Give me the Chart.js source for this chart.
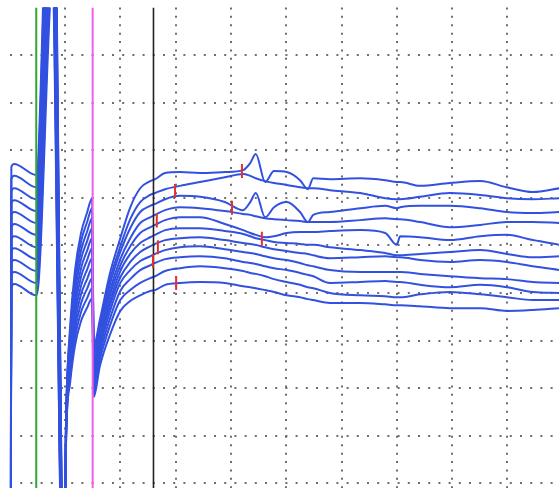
<!DOCTYPE html>
<html><head><meta charset="utf-8">
<script src="https://cdn.jsdelivr.net/npm/chart.js@4.4.1/dist/chart.umd.min.js"></script>
<style>html,body{margin:0;padding:0;background:#fff;overflow:hidden}canvas{display:block}</style>
</head><body>
<canvas id="c" width="559" height="488"></canvas>
<script>
// time axis samples (ms-divisions)
const timeMs = [0.02,0.03,0.08,0.48,0.77,0.98,1.02,1.09,1.18,1.29,1.40,1.49,1.52,1.63,1.81,2.0,2.18,2.36,2.54,2.63,2.81,3.08,3.44,3.89,4.22,4.35,4.45,4.62,4.78,5.01,5.25,5.39,5.49,5.79,6.34,6.79,7.0,7.06,7.42,7.96,8.51,8.99,9.46,9.95];
// trace amplitudes (divisions, downward positive)
const tr0 = [10.8,3.35,3.29,3.52,-4.90,12.0,8.58,6.75,5.53,4.74,4.31,4.01,7.10,6.57,5.60,4.85,4.20,3.80,3.65,3.61,3.48,3.46,3.48,3.46,3.42,3.27,3.08,3.67,3.44,3.46,3.63,3.82,3.59,3.61,3.59,3.63,3.67,3.67,3.75,3.69,3.65,3.78,3.88,3.80];
const tr1 = [10.8,3.61,3.54,3.78,-4.45,12.1,8.63,6.87,5.69,4.92,4.51,4.22,7.20,6.66,5.73,5.02,4.45,4.09,3.94,3.90,3.82,3.75,3.67,3.57,3.50,3.54,3.59,3.65,3.69,3.73,3.78,3.80,3.80,3.84,3.90,4.01,4.03,4.03,3.98,3.90,3.94,4.01,4.03,4.01];
const tr2 = [10.8,3.86,3.80,4.03,-4.00,12.2,8.68,6.98,5.85,5.11,4.71,4.43,7.31,6.74,5.83,5.14,4.64,4.30,4.17,4.13,4.03,3.96,3.98,4.09,4.26,4.09,3.90,4.41,4.20,4.09,4.30,4.51,4.36,4.30,4.22,4.17,4.22,4.20,4.17,4.17,4.22,4.30,4.32,4.30];
const tr3 = [10.8,4.11,4.05,4.28,-3.55,12.3,8.74,7.10,6.00,5.29,4.91,4.64,7.43,6.85,5.96,5.29,4.85,4.53,4.41,4.36,4.26,4.20,4.22,4.28,4.34,4.36,4.39,4.43,4.45,4.47,4.49,4.51,4.51,4.51,4.47,4.43,4.45,4.45,4.51,4.62,4.57,4.51,4.51,4.53];
const tr4 = [10.8,4.36,4.30,4.53,-3.10,12.4,8.79,7.21,6.16,5.48,5.11,4.85,7.54,6.93,6.07,5.42,5.02,4.74,4.62,4.57,4.47,4.41,4.41,4.55,4.68,4.74,4.78,4.83,4.81,4.74,4.72,4.72,4.72,4.70,4.68,4.74,4.99,4.81,4.83,4.89,4.81,4.78,4.89,4.99];
const tr5 = [10.8,4.62,4.55,4.78,-2.65,12.5,8.84,7.33,6.32,5.66,5.31,5.06,7.64,7.01,6.19,5.54,5.18,4.95,4.83,4.78,4.68,4.64,4.64,4.70,4.76,4.81,4.85,4.89,4.93,4.95,4.97,4.99,4.99,5.04,5.10,5.16,5.21,5.21,5.18,5.14,5.10,5.18,5.25,5.23];
const tr6 = [10.8,4.87,4.81,5.04,-2.20,12.6,8.89,7.44,6.48,5.85,5.51,5.27,7.75,7.10,6.28,5.67,5.35,5.14,5.02,4.97,4.89,4.85,4.83,4.89,4.95,4.97,4.99,5.04,5.08,5.12,5.16,5.18,5.21,5.27,5.25,5.23,5.25,5.25,5.31,5.35,5.31,5.35,5.44,5.52];
const tr7 = [10.8,5.12,5.06,5.29,-1.75,12.7,8.95,7.56,6.64,6.03,5.71,5.48,7.86,7.18,6.40,5.79,5.52,5.33,5.23,5.18,5.10,5.04,5.02,5.08,5.14,5.16,5.18,5.23,5.27,5.31,5.37,5.42,5.44,5.52,5.56,5.56,5.56,5.56,5.60,5.65,5.69,5.71,5.77,5.79];
const tr8 = [10.8,5.37,5.31,5.54,-1.30,12.8,9.00,7.68,6.79,6.22,5.91,5.69,7.98,7.29,6.55,5.96,5.71,5.52,5.42,5.37,5.29,5.25,5.23,5.27,5.35,5.37,5.39,5.44,5.48,5.52,5.58,5.62,5.65,5.79,5.77,5.75,5.77,5.77,5.83,5.88,5.83,5.88,5.98,6.00];
const tr9 = [10.8,5.62,5.56,5.79,-0.85,12.9,9.05,7.81,6.95,6.40,6.11,5.90,8.09,7.41,6.70,6.15,5.94,5.79,5.69,5.65,5.54,5.48,5.44,5.48,5.54,5.58,5.60,5.65,5.71,5.77,5.83,5.88,5.90,6.00,6.05,6.07,6.09,6.09,6.03,5.98,6.03,6.09,6.15,6.15];
const tr10 = [10.8,5.88,5.81,6.05,-0.40,13.0,9.10,7.91,7.11,6.59,6.31,6.11,8.19,7.54,6.89,6.38,6.17,6.05,5.96,5.94,5.83,5.79,5.77,5.79,5.86,5.88,5.90,5.94,5.98,6.05,6.09,6.13,6.15,6.21,6.21,6.24,6.26,6.26,6.28,6.32,6.32,6.38,6.36,6.32];
// latency markers
const markX = [2.99, 4.20, 4.02, 2.66, 4.56, 2.68, 2.59, 3.01];
const markY = [3.86, 3.44, 4.21, 4.48, 4.86, 5.04, 5.33, 5.79];
// cursor lines (ms)
const cursorX = [0.48, 1.50, 2.60];
const cursorColor = ['#2fa832', '#f25cf0', '#222222'];
// grid divisions
const gridX = [1,2,3,4,5,6,7,8,9];
const gridY = [1,2,3,4,5,6,7,8,9,10];

const traces = [tr0,tr1,tr2,tr3,tr4,tr5,tr6,tr7,tr8,tr9,tr10];
const datasets = [];
datasets.push({
  type: 'scatter',
  data: markX.map((x,i)=>({x, y: markY[i]})),
  pointStyle: 'line', rotation: 90, radius: 7, borderColor: '#e8302c', borderWidth: 2,
  backgroundColor: '#e8302c', showLine: false
});
cursorX.forEach((x,i)=>{
  datasets.push({
    data: [{x, y: 0}, {x, y: 10.1}],
    borderColor: cursorColor[i], borderWidth: i===2 ? 1.6 : 2, pointRadius: 0
  });
});
traces.forEach(ys=>{
  datasets.push({
    data: ys.map((y,i)=>({x: timeMs[i], y})),
    borderColor: '#3351e0', borderWidth: 2, pointRadius: 0,
    cubicInterpolationMode: 'monotone',
    segment: { borderWidth: (c) => (c.p0DataIndex === 3 || c.p0DataIndex === 4) ? 2.8 : undefined }
  });
});

const dotCol = 'rgba(85,85,85,0.85)';

new Chart(document.getElementById('c').getContext('2d'), {
  type: 'line',
  data: { datasets },
  options: {
    responsive: false, animation: false, events: [],
    plugins: { legend: { display: false }, tooltip: { enabled: false } },
    layout: { autoPadding: false, padding: { left: 9.7, top: 7.44, right: 0, bottom: 0 } },
    scales: {
      x: { type: 'linear', min: 0, max: 9.933,
           afterBuildTicks: (s) => { s.ticks = gridX.map(v => ({ value: v })); },
           ticks: { display: false },
           grid: { color: dotCol, lineWidth: 2, drawTicks: false },
           border: { display: false, dash: [2, 6.4] } },
      y: { type: 'linear', reverse: true, min: 0, max: 10.1,
           afterBuildTicks: (s) => { s.ticks = gridY.map(v => ({ value: v })); },
           ticks: { display: false },
           grid: { color: dotCol, lineWidth: 2, drawTicks: false },
           border: { display: false, dash: [2, 8.2] } }
    }
  }
});
</script>
</body></html>
